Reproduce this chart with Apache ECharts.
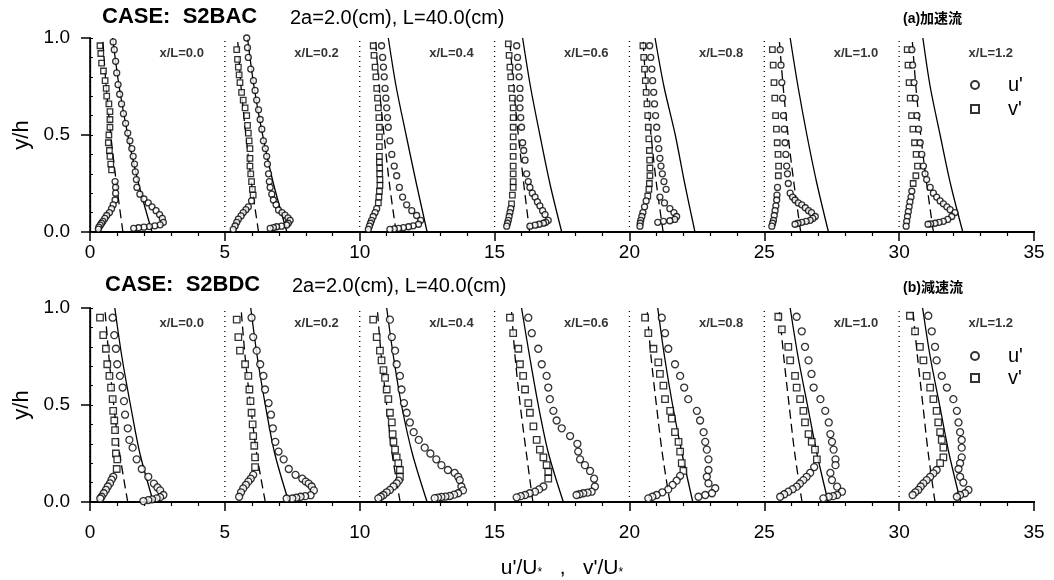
<!DOCTYPE html>
<html><head><meta charset="utf-8">
<script src="https://cdn.jsdelivr.net/npm/echarts@6/dist/echarts.min.js"></script>
<style>html,body{margin:0;padding:0;background:#fff}#c{width:1054px;height:580px}</style>
</head><body><div id="c"></div>
<script>
// ---------- DATA ----------
const offsets = [0, 5, 10, 15, 20, 25, 30];           // horizontal shift of each profile
const stations = ['x/L=0.0','x/L=0.2','x/L=0.4','x/L=0.6','x/L=0.8','x/L=1.0','x/L=1.2'];
const xTicks = [0, 5, 10, 15, 20, 25, 30, 35];
const yTicks = [0.0, 0.5, 1.0];
const lineY = [0, 0.25, 0.5, 0.75, 1.0];                // y/h levels of the reference curves

// (a) accelerating flow — values relative to each profile's offset: [u'/U*, y/h]
const accU = [
 [[0.86,0.98],[0.90,0.94],[0.95,0.88],[0.99,0.82],[1.04,0.76],[1.10,0.71],[1.17,0.66],[1.24,0.61],[1.32,0.56],[1.40,0.51],[1.48,0.47],[1.55,0.43],[1.60,0.39],[1.65,0.35],[1.68,0.31],[1.72,0.27],[1.74,0.23],[1.85,0.195],[2.0,0.17],[2.16,0.15],[2.3,0.13],[2.45,0.11],[2.58,0.09],[2.68,0.07],[2.72,0.05],[2.6,0.037],[2.4,0.032],[2.2,0.028],[2.0,0.025],[1.8,0.022],[1.62,0.019]],
 [[0.81,1.0],[0.84,0.95],[0.87,0.90],[0.96,0.84],[1.06,0.78],[1.12,0.73],[1.18,0.68],[1.25,0.63],[1.31,0.58],[1.37,0.53],[1.43,0.47],[1.50,0.43],[1.55,0.39],[1.58,0.35],[1.62,0.30],[1.65,0.26],[1.68,0.23],[1.74,0.195],[1.80,0.165],[1.90,0.14],[1.99,0.113],[2.12,0.10],[2.23,0.087],[2.34,0.073],[2.42,0.06],[2.35,0.045],[2.29,0.036],[2.1,0.03],[1.92,0.027],[1.8,0.023],[1.68,0.019]],
 [[0.81,0.96],[0.85,0.90],[0.88,0.85],[0.91,0.80],[0.94,0.74],[0.97,0.69],[1.0,0.64],[1.03,0.59],[1.06,0.54],[1.12,0.47],[1.19,0.40],[1.28,0.34],[1.37,0.29],[1.47,0.23],[1.59,0.18],[1.74,0.14],[1.93,0.11],[2.11,0.085],[2.26,0.06],[2.18,0.04],[1.98,0.032],[1.81,0.027],[1.62,0.023],[1.44,0.019],[1.28,0.016],[1.12,0.014]],
 [[0.82,0.96],[0.85,0.90],[0.88,0.85],[0.91,0.80],[0.94,0.74],[0.94,0.69],[0.94,0.64],[0.97,0.59],[1.0,0.54],[1.04,0.46],[1.08,0.42],[1.13,0.37],[1.19,0.30],[1.25,0.26],[1.31,0.23],[1.40,0.20],[1.50,0.18],[1.59,0.155],[1.68,0.135],[1.78,0.11],[1.87,0.09],[1.99,0.06],[1.9,0.05],[1.81,0.045],[1.65,0.04],[1.5,0.035],[1.31,0.03]],
 [[0.75,0.96],[0.79,0.90],[0.83,0.84],[0.86,0.78],[0.90,0.72],[0.93,0.66],[0.97,0.60],[1.01,0.54],[1.05,0.48],[1.09,0.43],[1.13,0.38],[1.17,0.34],[1.22,0.30],[1.28,0.26],[1.36,0.22],[1.13,0.18],[1.3,0.15],[1.5,0.12],[1.65,0.10],[1.75,0.08],[1.68,0.065],[1.5,0.058],[1.26,0.055],[1.05,0.05]],
 [[0.59,0.94],[0.62,0.86],[0.65,0.77],[0.68,0.69],[0.71,0.60],[0.74,0.53],[0.77,0.46],[0.80,0.40],[0.83,0.34],[0.86,0.30],[0.89,0.25],[0.96,0.20],[1.05,0.18],[1.14,0.165],[1.26,0.15],[1.39,0.14],[1.52,0.125],[1.64,0.11],[1.75,0.10],[1.89,0.08],[1.80,0.07],[1.70,0.06],[1.55,0.055],[1.39,0.05],[1.25,0.045],[1.14,0.04]],
 [[0.47,0.94],[0.50,0.86],[0.55,0.77],[0.60,0.69],[0.66,0.60],[0.72,0.53],[0.78,0.46],[0.84,0.40],[0.90,0.34],[0.96,0.30],[1.02,0.27],[1.15,0.23],[1.27,0.20],[1.39,0.18],[1.52,0.16],[1.64,0.145],[1.77,0.13],[1.89,0.115],[2.07,0.10],[1.95,0.08],[1.80,0.065],[1.64,0.055],[1.48,0.05],[1.33,0.045],[1.17,0.042],[1.07,0.04]]
];
const accV = [
 [[0.37,0.96],[0.40,0.92],[0.43,0.87],[0.50,0.83],[0.56,0.78],[0.60,0.74],[0.62,0.70],[0.70,0.66],[0.74,0.62],[0.74,0.58],[0.74,0.54],[0.70,0.50],[0.68,0.46],[0.72,0.42],[0.74,0.39],[0.77,0.35],[0.80,0.32]],
 [[0.44,0.94],[0.47,0.89],[0.50,0.85],[0.53,0.81],[0.56,0.77],[0.62,0.72],[0.68,0.68],[0.75,0.64],[0.81,0.60],[0.84,0.55],[0.87,0.51],[0.90,0.47],[0.93,0.43],[0.93,0.38],[0.93,0.34],[0.96,0.30],[0.99,0.26],[1.02,0.22],[1.05,0.19]],
 [[0.50,0.96],[0.53,0.91],[0.57,0.85],[0.60,0.80],[0.63,0.74],[0.66,0.69],[0.69,0.64],[0.71,0.59],[0.73,0.54],[0.73,0.49],[0.73,0.44],[0.73,0.39],[0.73,0.36],[0.74,0.33],[0.74,0.30],[0.75,0.27],[0.75,0.24],[0.73,0.21],[0.71,0.18],[0.69,0.15]],
 [[0.51,0.97],[0.54,0.91],[0.57,0.85],[0.60,0.80],[0.63,0.74],[0.66,0.69],[0.69,0.64],[0.69,0.59],[0.69,0.54],[0.69,0.49],[0.69,0.44],[0.69,0.39],[0.69,0.34],[0.69,0.30],[0.69,0.26],[0.69,0.23],[0.66,0.19],[0.63,0.145]],
 [[0.50,0.96],[0.53,0.90],[0.56,0.84],[0.59,0.78],[0.62,0.72],[0.65,0.66],[0.68,0.60],[0.70,0.54],[0.72,0.48],[0.74,0.42],[0.75,0.37],[0.76,0.33],[0.76,0.29],[0.74,0.25],[0.72,0.22],[0.68,0.185]],
 [[0.30,0.94],[0.33,0.86],[0.36,0.77],[0.39,0.69],[0.42,0.60],[0.45,0.53],[0.48,0.46],[0.51,0.40],[0.53,0.34],[0.52,0.29]],
 [[0.30,0.94],[0.33,0.86],[0.37,0.77],[0.41,0.69],[0.46,0.60],[0.51,0.53],[0.57,0.46],[0.63,0.40],[0.68,0.34],[0.62,0.29],[0.52,0.25]]
];
const accVWall = [
 [[0.93,0.26],[0.95,0.23],[0.95,0.20],[0.93,0.165],[0.86,0.14],[0.80,0.12],[0.72,0.10],[0.62,0.085],[0.55,0.07],[0.48,0.055],[0.43,0.045],[0.38,0.035],[0.33,0.025],[0.31,0.015]],
 [[0.99,0.16],[0.87,0.13],[0.78,0.115],[0.68,0.10],[0.60,0.083],[0.50,0.066],[0.44,0.05],[0.38,0.031],[0.31,0.014]],
 [[0.63,0.12],[0.57,0.10],[0.50,0.08],[0.44,0.06],[0.40,0.045],[0.36,0.03],[0.32,0.014]],
 [[0.60,0.12],[0.57,0.10],[0.54,0.08],[0.51,0.06],[0.48,0.045],[0.45,0.03]],
 [[0.62,0.16],[0.56,0.13],[0.50,0.10],[0.46,0.08],[0.42,0.06],[0.40,0.045],[0.39,0.03]],
 [[0.49,0.23],[0.47,0.19],[0.46,0.165],[0.43,0.135],[0.40,0.11],[0.37,0.085],[0.34,0.06],[0.31,0.045],[0.28,0.03]],
 [[0.47,0.21],[0.44,0.18],[0.40,0.155],[0.37,0.13],[0.34,0.105],[0.31,0.08],[0.28,0.055],[0.26,0.03]]
];
const accSolid = [
 [2.30,1.80,1.40,1.08,0.84],[2.30,1.80,1.40,1.08,0.84],[2.50,2.10,1.72,1.35,1.06],[2.49,2.05,1.68,1.33,1.04],
 [2.43,2.05,1.70,1.28,0.95],[2.38,1.95,1.58,1.25,0.96],[2.36,1.90,1.52,1.15,0.88]
];
const accDashed = [
 [1.22,0.98,0.77,0.60,0.47],[1.25,0.99,0.78,0.60,0.47],[1.35,1.10,0.90,0.72,0.58],[1.30,1.08,0.88,0.70,0.56],
 [1.25,1.00,0.80,0.62,0.50],[1.35,1.10,0.88,0.70,0.55],[1.27,1.02,0.80,0.62,0.48]
];

// (b) decelerating flow
const decU = [
 [[0.84,0.95],[0.90,0.86],[0.96,0.79],[1.01,0.71],[1.11,0.65],[1.21,0.59],[1.26,0.52],[1.30,0.45],[1.40,0.38],[1.46,0.32],[1.58,0.28],[1.73,0.22],[1.92,0.17],[2.16,0.13],[2.37,0.095],[2.50,0.075],[2.60,0.06],[2.72,0.036],[2.6,0.025],[2.47,0.019],[2.3,0.014],[2.16,0.01],[1.98,0.005]],
 [[0.99,0.95],[1.05,0.85],[1.18,0.78],[1.31,0.71],[1.43,0.65],[1.49,0.58],[1.62,0.51],[1.71,0.45],[1.78,0.38],[1.87,0.31],[1.99,0.26],[2.18,0.22],[2.37,0.17],[2.62,0.14],[2.87,0.12],[3.0,0.105],[3.11,0.095],[3.22,0.08],[3.30,0.06],[3.18,0.035],[2.98,0.03],[2.81,0.027],[2.65,0.022],[2.5,0.018],[2.29,0.018]],
 [[1.12,0.94],[1.19,0.85],[1.31,0.78],[1.37,0.71],[1.49,0.65],[1.55,0.58],[1.64,0.51],[1.74,0.46],[1.86,0.41],[2.0,0.36],[2.19,0.32],[2.41,0.28],[2.62,0.25],[2.84,0.22],[3.03,0.19],[3.27,0.165],[3.52,0.15],[3.65,0.13],[3.71,0.113],[3.77,0.08],[3.83,0.06],[3.65,0.045],[3.5,0.038],[3.34,0.031],[3.18,0.028],[3.03,0.026],[2.9,0.023],[2.78,0.02]],
 [[1.25,0.95],[1.38,0.87],[1.62,0.79],[1.75,0.71],[1.93,0.65],[1.99,0.59],[2.05,0.53],[2.18,0.47],[2.30,0.42],[2.49,0.38],[2.80,0.34],[3.07,0.30],[3.1,0.26],[3.17,0.22],[3.35,0.19],[3.54,0.16],[3.69,0.12],[3.72,0.08],[3.6,0.053],[3.45,0.048],[3.29,0.045],[3.15,0.04],[3.04,0.036]],
 [[1.20,0.95],[1.32,0.87],[1.44,0.79],[1.69,0.71],[1.88,0.65],[2.03,0.59],[2.18,0.53],[2.5,0.47],[2.62,0.42],[2.75,0.36],[2.81,0.31],[2.87,0.27],[2.93,0.22],[2.93,0.165],[2.87,0.13],[2.93,0.096],[3.18,0.071],[3.06,0.045],[2.81,0.036],[2.56,0.027]],
 [[1.2,0.955],[1.39,0.88],[1.51,0.80],[1.64,0.73],[1.75,0.66],[1.83,0.59],[2.08,0.53],[2.26,0.47],[2.39,0.41],[2.45,0.35],[2.51,0.31],[2.57,0.27],[2.64,0.22],[2.64,0.19],[2.45,0.15],[2.51,0.113],[2.70,0.079],[2.88,0.053],[2.70,0.036],[2.55,0.03],[2.39,0.027],[2.19,0.019]],
 [[1.08,0.96],[1.21,0.88],[1.33,0.80],[1.39,0.73],[1.58,0.65],[1.77,0.59],[2.01,0.53],[2.14,0.47],[2.20,0.41],[2.26,0.36],[2.32,0.32],[2.32,0.28],[2.32,0.23],[2.26,0.20],[2.20,0.17],[2.26,0.13],[2.38,0.10],[2.57,0.062],[2.44,0.045],[2.26,0.036],[2.14,0.027]]
];
const decV = [
 [[0.37,0.95],[0.49,0.86],[0.59,0.79],[0.64,0.71],[0.72,0.65],[0.78,0.59],[0.84,0.53],[0.86,0.47],[0.90,0.42],[0.93,0.37],[0.94,0.31],[0.96,0.25],[1.01,0.22],[0.99,0.17]],
 [[0.44,0.94],[0.50,0.85],[0.56,0.78],[0.75,0.71],[0.87,0.65],[0.91,0.58],[0.95,0.52],[0.99,0.46],[1.03,0.40],[1.05,0.34],[1.09,0.29],[1.12,0.23],[1.12,0.18]],
 [[0.50,0.94],[0.63,0.85],[0.75,0.78],[0.81,0.73],[0.88,0.68],[0.94,0.64],[1.0,0.58],[1.06,0.53],[1.12,0.46],[1.19,0.41],[1.22,0.35],[1.25,0.31],[1.31,0.27],[1.37,0.23],[1.43,0.20],[1.49,0.165],[1.49,0.13]],
 [[0.57,0.95],[0.69,0.87],[0.88,0.79],[0.94,0.71],[1.06,0.65],[1.13,0.58],[1.25,0.51],[1.31,0.46],[1.44,0.39],[1.56,0.32],[1.68,0.27],[1.81,0.23],[1.93,0.19],[1.99,0.156],[1.99,0.12]],
 [[0.58,0.95],[0.70,0.87],[0.89,0.79],[1.07,0.72],[1.13,0.66],[1.26,0.60],[1.32,0.53],[1.51,0.47],[1.57,0.43],[1.69,0.36],[1.82,0.31],[1.88,0.26],[1.94,0.20],[2.0,0.16]],
 [[0.52,0.955],[0.65,0.89],[0.89,0.80],[0.96,0.73],[1.14,0.65],[1.20,0.59],[1.33,0.53],[1.45,0.47],[1.51,0.41],[1.64,0.35],[1.76,0.31],[1.88,0.27],[1.95,0.22]],
 [[0.40,0.96],[0.59,0.88],[0.77,0.80],[0.90,0.73],[1.02,0.65],[1.15,0.59],[1.27,0.53],[1.39,0.47],[1.45,0.41],[1.52,0.36],[1.58,0.32],[1.64,0.28],[1.64,0.23],[1.52,0.20]]
];
const decVWall = [
 [[0.86,0.13],[0.80,0.115],[0.74,0.096],[0.66,0.08],[0.59,0.062],[0.51,0.045],[0.43,0.027],[0.38,0.018]],
 [[1.05,0.14],[0.96,0.12],[0.87,0.105],[0.78,0.088],[0.68,0.07],[0.60,0.05],[0.53,0.027]],
 [[1.45,0.11],[1.37,0.096],[1.25,0.08],[1.12,0.062],[1.0,0.05],[0.88,0.036],[0.78,0.027],[0.69,0.019]],
 [[1.81,0.08],[1.65,0.065],[1.5,0.053],[1.3,0.045],[1.13,0.036],[0.97,0.03],[0.82,0.024]],
 [[1.88,0.135],[1.75,0.11],[1.6,0.088],[1.44,0.065],[1.22,0.05],[1.01,0.036],[0.85,0.027],[0.70,0.019]],
 [[1.85,0.18],[1.70,0.15],[1.57,0.13],[1.45,0.113],[1.32,0.095],[1.2,0.079],[1.05,0.066],[0.89,0.053],[0.74,0.04],[0.59,0.027]],
 [[1.39,0.165],[1.27,0.148],[1.15,0.13],[1.02,0.113],[0.90,0.096],[0.80,0.08],[0.71,0.062],[0.60,0.05],[0.50,0.036]]
];
const decSolid = [
 [2.35,1.85,1.50,1.18,0.92],[2.37,1.85,1.50,1.20,0.96],[2.50,1.95,1.55,1.25,1.00],[2.55,2.00,1.62,1.30,1.00],
 [2.35,1.95,1.60,1.30,1.05],[2.37,1.95,1.60,1.25,0.96],[2.28,1.85,1.50,1.15,0.87]
];
const decDashed = [
 [1.40,1.10,0.88,0.70,0.55],[1.50,1.18,0.95,0.75,0.60],[1.50,1.20,1.00,0.80,0.65],[1.42,1.18,0.95,0.76,0.62],
 [1.50,1.22,1.00,0.80,0.65],[1.40,1.13,0.92,0.72,0.55],[1.33,1.08,0.88,0.68,0.50]
];

// ---------- CHART ----------
const FONT = '"Liberation Sans", Arial, "Noto Sans CJK JP", sans-serif';
const panels = [
  {u: accU, v: accV, vw: accVWall, s: accSolid, d: accDashed, case: 'CASE:  S2BAC', tag: '(a)加速流'},
  {u: decU, v: decV, vw: decVWall, s: decSolid, d: decDashed, case: 'CASE:  S2BDC', tag: '(b)減速流'}
];
const grids = [
  {left: 90, top: 38, width: 944, height: 194},
  {left: 90, top: 308, width: 944, height: 194}
];
const xMin = xTicks[0], xMax = xTicks[xTicks.length - 1], xInt = xTicks[1] - xTicks[0];
const yMin = yTicks[0], yMax = yTicks[yTicks.length - 1], yInt = yTicks[1] - yTicks[0];

const xAxis = [], yAxis = [], series = [];
panels.forEach((P, p) => {
  xAxis.push({
    gridIndex: p, type: 'value', min: xMin, max: xMax, interval: xInt, position: 'bottom',
    axisLine: {show: true, lineStyle: {color: '#000', width: 2}},
    axisTick: {show: true, length: 9, lineStyle: {color: '#000', width: 1.5}},
    minorTick: {show: true, splitNumber: 5, length: 4, lineStyle: {color: '#000', width: 1.2}},
    splitLine: {show: false},
    axisLabel: {color: '#000', fontSize: 19, fontFamily: FONT, margin: p === 0 ? 11 : 21, showMinLabel: true, showMaxLabel: true},
    name: p === 1 ? "u'/U{s|*}   ,   v'/U{s|*}" : '',
    nameLocation: 'middle', nameGap: 55,
    nameTextStyle: {color: '#000', fontSize: 21, fontFamily: FONT,
      rich: {s: {fontSize: 12, fontFamily: FONT, color: '#000', padding: [10, 0, 0, 0]}}}
  });
  xAxis.push({
    gridIndex: p, type: 'value', min: xMin, max: xMax, position: 'top',
    axisLine: {show: true, lineStyle: {color: '#000', width: 2}},
    axisTick: {show: false}, axisLabel: {show: false}, splitLine: {show: false}
  });
  yAxis.push({
    gridIndex: p, type: 'value', min: yMin, max: yMax, interval: yInt, position: 'left',
    axisLine: {show: true, lineStyle: {color: '#000', width: 1.5}},
    axisTick: {show: true, length: 9, lineStyle: {color: '#000', width: 1.5}},
    splitLine: {show: false},
    axisLabel: {color: '#000', fontSize: 19, fontFamily: FONT, margin: 20, formatter: v => v.toFixed(1)},
    name: 'y/h', nameLocation: 'middle', nameGap: 55, nameRotate: 90,
    nameTextStyle: {color: '#000', fontSize: 22, fontFamily: FONT}
  });
  yAxis.push({
    gridIndex: p, type: 'value', min: yMin, max: yMax, position: 'right',
    axisLine: {show: true, lineStyle: {color: '#000', width: 1.3}},
    axisTick: {show: false}, axisLabel: {show: false}, splitLine: {show: false}
  });
  yAxis.push({
    gridIndex: p, type: 'value', min: yMin, max: yMax, interval: 0.1, position: 'left',
    axisLine: {show: false}, axisTick: {show: true, inside: true, length: 3, lineStyle: {color: '#000', width: 1}},
    axisLabel: {show: false}, splitLine: {show: false}
  });

  const xi = 2 * p, yi = 3 * p;
  const mk = p === 0 ? 6 : 7;
  offsets.forEach((o, k) => {
    series.push({type: 'line', xAxisIndex: xi, yAxisIndex: yi, symbol: 'none', silent: true, z: 1,
      data: [[o, yMin], [o, yMax]], lineStyle: {color: '#000', width: 1.3, type: [1, 4]}});
    series.push({type: 'line', xAxisIndex: xi, yAxisIndex: yi, symbol: 'none', silent: true, smooth: 0.3, z: 2,
      data: lineY.map((y, i) => [o + P.s[k][i], y]), lineStyle: {color: '#000', width: 1.3}});
    series.push({type: 'line', xAxisIndex: xi, yAxisIndex: yi, symbol: 'none', silent: true, smooth: 0.3, z: 2,
      data: lineY.map((y, i) => [o + P.d[k][i], y]), lineStyle: {color: '#000', width: 1.3, type: [9, 5]}});
  });
  const vData = [];
  offsets.forEach((o, k) => {
    P.v[k].forEach(d => vData.push({value: [o + d[0], d[1]]}));
    P.vw[k].forEach(d => vData.push({value: [o + d[0], d[1]], symbol: 'circle', symbolSize: mk}));
  });
  const uData = [];
  offsets.forEach((o, k) => P.u[k].forEach(d => uData.push([o + d[0], d[1]])));
  series.push({type: 'scatter', name: "u'", xAxisIndex: xi, yAxisIndex: yi, symbol: 'circle', symbolSize: mk, z: 4,
    data: uData, itemStyle: {color: '#fff', borderColor: '#000', borderWidth: 1.3}});
  series.push({type: 'scatter', name: "v'", xAxisIndex: xi, yAxisIndex: yi, symbol: 'rect', symbolSize: mk - 0.5, z: 3,
    data: vData, itemStyle: {color: '#fff', borderColor: '#000', borderWidth: 1.3}});
  series.push({type: 'scatter', xAxisIndex: xi, yAxisIndex: yi, symbolSize: 0, silent: true, z: 5,
    data: offsets.map((o, k) => ({value: [o + 3.4, 0.92], name: stations[k]})),
    label: {show: true, position: 'inside', formatter: '{b}', color: '#000', fontSize: 13, fontWeight: 'bold', fontFamily: FONT}});
});

const legendBase = {
  orient: 'vertical', left: 965, itemWidth: 8, itemHeight: 8, selectedMode: false,
  data: ["u'", "v'"],
  textStyle: {color: '#000', fontSize: 20, fontFamily: FONT, lineHeight: 20, padding: [0, 0, 0, 24]}
};

const graphic = [];
panels.forEach((P, p) => {
  const base = p === 0 ? 0 : 268;
  graphic.push({type: 'text', x: p === 0 ? 102 : 105, y: 16.5 + base, silent: true,
    style: {text: P.case, fontSize: 22, fontWeight: 'bold', fontFamily: FONT, fill: '#000', verticalAlign: 'middle', align: 'left'}});
  graphic.push({type: 'text', x: p === 0 ? 290 : 292, y: 18 + base, silent: true,
    style: {text: '2a=2.0(cm), L=40.0(cm)', fontSize: 20, fontFamily: FONT, fill: '#000', verticalAlign: 'middle', align: 'left'}});
  graphic.push({type: 'text', x: 903, y: 19 + base + (p === 0 ? 0 : 1), silent: true,
    style: {text: P.tag, fontSize: 14, fontWeight: 'bold', fontFamily: FONT, fill: '#000', verticalAlign: 'middle', align: 'left'}});
});

const chart = echarts.init(document.getElementById('c'), null, {renderer: 'canvas'});
chart.setOption({
  animation: false,
  backgroundColor: '#fff',
  grid: grids,
  xAxis: xAxis,
  yAxis: yAxis,
  legend: [
    Object.assign({}, legendBase, {top: 70, itemGap: 4}),
    Object.assign({}, legendBase, {top: 341, itemGap: 2})
  ],
  graphic: graphic,
  series: series
});
</script>
</body></html>
